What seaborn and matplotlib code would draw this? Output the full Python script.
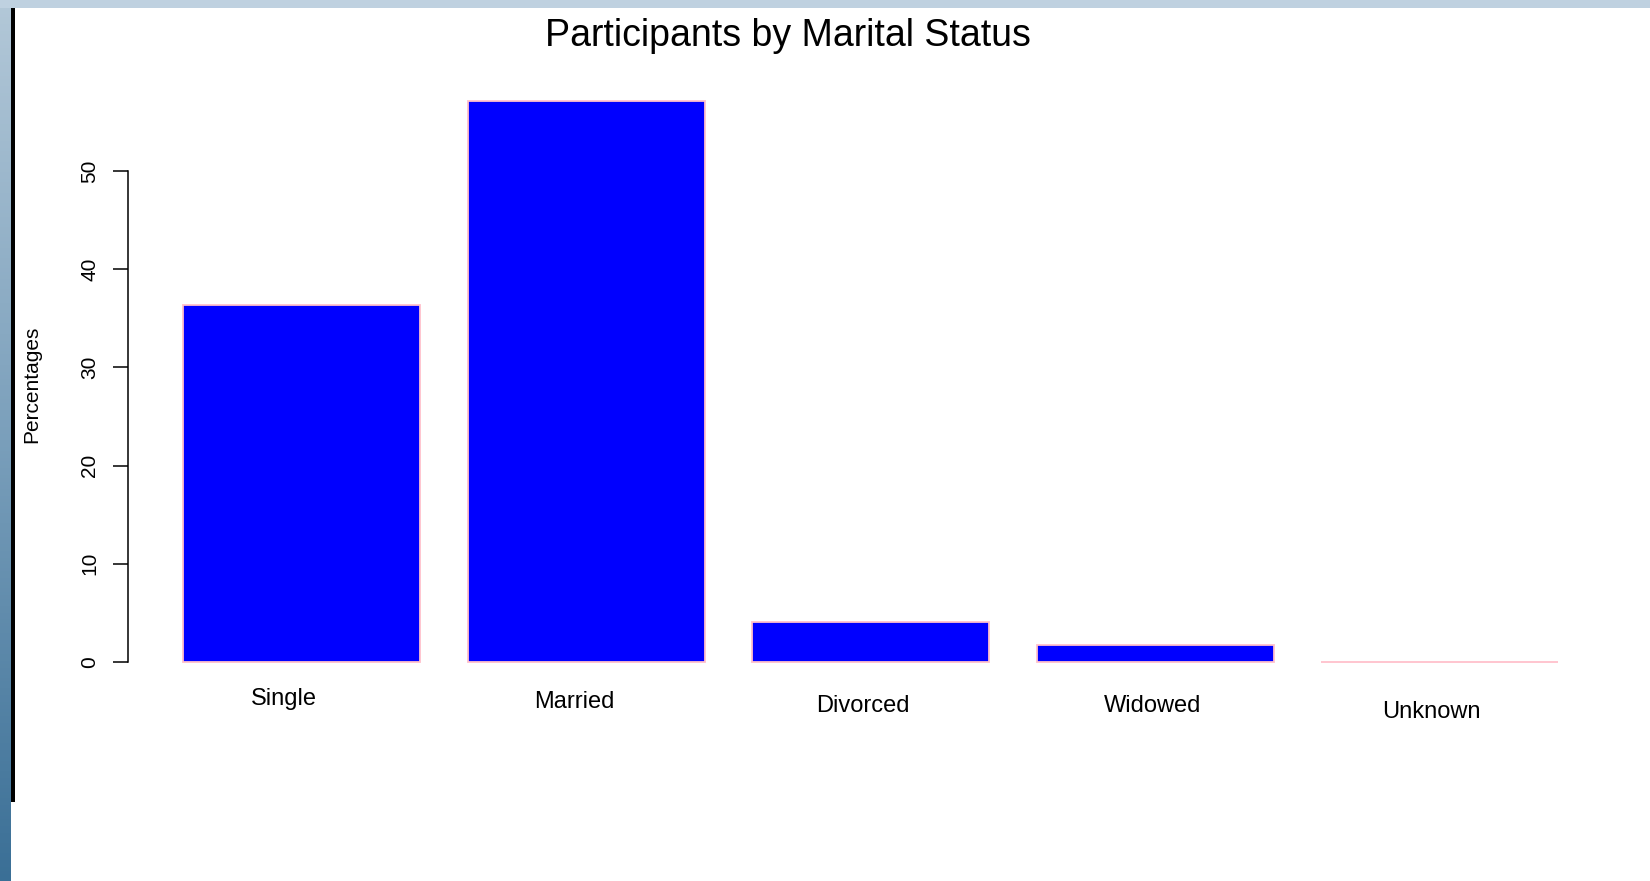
import numpy as np
import matplotlib
matplotlib.use('Agg')
import matplotlib.pyplot as plt
import matplotlib.transforms as mtransforms
from matplotlib.colors import LinearSegmentedColormap
from matplotlib.patches import Rectangle
import seaborn as sns

# data
categories = ['Single', 'Married', 'Divorced', 'Widowed', 'Unknown']
percentages = [36.4, 57.1, 4.1, 1.7, 0.0]
y_ticks = [0, 10, 20, 30, 40, 50]

# small per-label nudges (pixels) seen in the screenshot
label_dx = [-17.5, -12, -8, -2.6, -9]
label_dy = [14.6, 17.6, 21.6, 21.6, 27.6]

sns.set_style('ticks')
plt.rcParams['font.family'] = ['Liberation Sans', 'DejaVu Sans']
plt.rcParams['text.color'] = 'black'
plt.rcParams['axes.labelcolor'] = 'black'

fig = plt.figure(figsize=(16.5, 8.81), dpi=100)
fig.patch.set_facecolor('white')

# window decoration from the screenshot: top strip, left gradient, black frame line
fig.patches.append(Rectangle((0, 1 - 8 / 881), 1, 8 / 881, transform=fig.transFigure,
                             facecolor='#bfd1e0', edgecolor='none', zorder=0))
strip = fig.add_axes([0, 0, 11 / 1650, 1])
grad = LinearSegmentedColormap.from_list('strip', ['#b3c8d8', '#7a9fbb', '#3a6f96'])
strip.imshow(np.linspace(0, 1, 256).reshape(-1, 1), aspect='auto', cmap=grad)
strip.axis('off')
fig.patches.append(Rectangle((11 / 1650, (881 - 802) / 881), 4 / 1650, 794 / 881,
                             transform=fig.transFigure, facecolor='black',
                             edgecolor='none', zorder=1))

ax = fig.add_axes([128 / 1650, 1 - 684.4 / 881, 1485.5 / 1650, 605.5 / 881])
sns.barplot(x=categories, y=percentages, color='blue', saturation=1,
            edgecolor='pink', linewidth=1.3, width=1 / 1.2, errorbar=None, ax=ax)

ymax = max(percentages)
ax.set_ylim(-0.04 * ymax, ymax * 1.04)
ax.set_xlim(-0.61, len(categories) - 1 + 0.61)

for side in ['top', 'right', 'bottom']:
    ax.spines[side].set_visible(False)
ax.spines['left'].set_bounds(y_ticks[0], y_ticks[-1])
ax.spines['left'].set_linewidth(1.1)
ax.spines['left'].set_color('black')

ax.set_yticks(y_ticks)
ax.set_yticklabels([str(t) for t in y_ticks], rotation=90, va='center')
ax.tick_params(axis='y', length=10.8, width=1.1, pad=10, labelsize=15,
               colors='black', labelcolor='black')

ax.set_xticks([])
ax.set_xlabel('')
trans = ax.get_xaxis_transform()
for i, (name, dx, dy) in enumerate(zip(categories, label_dx, label_dy)):
    off = mtransforms.ScaledTranslation(dx / 100, -dy / 100, fig.dpi_scale_trans)
    ax.text(i, 0, name, transform=trans + off, ha='center', va='center',
            fontsize=17, color='black')

ax.set_ylabel('Percentages', fontsize=15, color='black')
ax.yaxis.set_label_coords(-0.0585, 0.496)

fig.text(788 / 1650, 1 - 46 / 881, 'Participants by Marital Status',
         ha='center', va='baseline', fontsize=27, color='black')

fig.savefig('out.png', dpi=100)
